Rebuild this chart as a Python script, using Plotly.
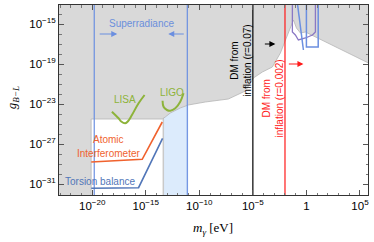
import plotly.graph_objects as go
import numpy as np

# ---------------- data (log10 values) ----------------
x_tick_exp = [-20, -15, -10, -5, 0, 5]
x_tick_text = ["10<sup>−20</sup>", "10<sup>−15</sup>", "10<sup>−10</sup>", "10<sup>−5</sup>", "1", "10<sup>5</sup>"]
y_tick_exp = [-31, -27, -23, -19, -15]
y_tick_text = ["10<sup>−31</sup>", "10<sup>−27</sup>", "10<sup>−23</sup>", "10<sup>−19</sup>", "10<sup>−15</sup>"]

# excluded (grey) region boundary
grey_logm = [-23.5, -20.1, -20.1, -13.46, -13.18, -12.71, -11.78, -11.03, -9.44, -7.29, -5.70, -4.95,
             -4.11, -3.18, -2.43, -1.96, -1.50, -1.21, -0.93, -0.56, -0.09, 5.79, 6.2, 6.2, -23.5]
grey_logg = [-32.5, -32.5, -24.5, -24.5, -24.3, -23.9, -23.4, -23.1, -22.8, -22.5, -21.7, -20.4,
             -19.8, -19.3, -17.9, -16.6, -15.3, -14.6, -15.4, -15.9, -15.8, -18.9, -19.0, -12.7, -12.7]

# superradiance (light blue) band
sr_band_logm = [-13.36, -11.03]
sr_band_logg = [-32.5, -21]
sr_bounds_logm = [-19.81, -11.12]

# purple contour
purple_logm = [-1.31, -1.31, -1.03, -0.75, -0.09, 0.56, 0.84, 0.84]
purple_logg = [-12.7, -15.8, -16.1, -16.6, -16.4, -16.1, -15.8, -12.7]
# blue slanted line and blue box
bline_logm = [-0.87, -0.28]
bline_logg = [-12.7, -17.6]
bbox_logm = [0.0, 0.0, 1.1, 1.1]
bbox_logg = [-12.7, -17.3, -17.3, -12.7]

# projected sensitivities
lisa_logm = [-18.16, -17.54, -17.29, -16.92, -16.64, -16.29, -15.67, -15.11]
lisa_logg = [-23.77, -24.43, -24.75, -24.93, -24.7, -24.1, -22.93, -22.1]
ligo_logm = [-13.43, -13.34, -13.02, -12.71, -12.24, -11.78, -11.47]
ligo_logg = [-22.67, -23.27, -23.6, -23.67, -23.43, -22.77, -21.93]
ai_logm = [-20.09, -15.33, -13.46]
ai_logg = [-28.8, -28.53, -24.8]
tb_logm = [-20.09, -15.67, -13.43]
tb_logg = [-31.43, -31.37, -26.43]

# DM from inflation lines
dm_black_logm = -5
dm_red_logm = -2

def p(v):
    return [10.0 ** a for a in v]

GREY = "#d9d9d9"
fig = go.Figure()

# light blue superradiance band
fig.add_trace(go.Scatter(x=p([sr_band_logm[0], sr_band_logm[0], sr_band_logm[1], sr_band_logm[1], sr_band_logm[0]]),
                         y=p([sr_band_logg[0], sr_band_logg[1], sr_band_logg[1], sr_band_logg[0], sr_band_logg[0]]),
                         fill="toself", fillcolor="#dcebfc", mode="lines", line=dict(width=0, color="#dcebfc"),
                         hoverinfo="skip"))
fig.add_trace(go.Scatter(x=p([sr_band_logm[0], sr_band_logm[0]]), y=p(sr_band_logg),
                         mode="lines", line=dict(color="#c9c9c9", width=1.5), hoverinfo="skip"))
# grey excluded region
fig.add_trace(go.Scatter(x=p(grey_logm), y=p(grey_logg), fill="toself", fillcolor=GREY,
                         mode="lines", line=dict(color="#b5b5b5", width=0.8), hoverinfo="skip"))
# superradiance bounds
for xm in sr_bounds_logm:
    fig.add_trace(go.Scatter(x=p([xm, xm]), y=p([-32.5, -12.7]), mode="lines",
                             line=dict(color="#6b8fe0", width=1.2), hoverinfo="skip"))
# purple and blue contours
fig.add_trace(go.Scatter(x=p(purple_logm), y=p(purple_logg), mode="lines",
                         line=dict(color="#8a78c4", width=1.3), hoverinfo="skip"))
fig.add_trace(go.Scatter(x=p(bline_logm), y=p(bline_logg), mode="lines",
                         line=dict(color="#6b8fe0", width=1.5), hoverinfo="skip"))
fig.add_trace(go.Scatter(x=p(bbox_logm), y=p(bbox_logg), mode="lines",
                         line=dict(color="#6b8fe0", width=1.5), hoverinfo="skip"))
# sensitivities
fig.add_trace(go.Scatter(x=p(lisa_logm), y=p(lisa_logg), mode="lines", line_shape="spline",
                         line=dict(color="#8db33a", width=2), hoverinfo="skip"))
fig.add_trace(go.Scatter(x=p(ligo_logm), y=p(ligo_logg), mode="lines", line_shape="spline",
                         line=dict(color="#8db33a", width=2), hoverinfo="skip"))
fig.add_trace(go.Scatter(x=p(ai_logm), y=p(ai_logg), mode="lines",
                         line=dict(color="#f0622e", width=1.6), hoverinfo="skip"))
fig.add_trace(go.Scatter(x=p(tb_logm), y=p(tb_logg), mode="lines",
                         line=dict(color="#5176b8", width=1.6), hoverinfo="skip"))
# DM lines
fig.add_trace(go.Scatter(x=p([dm_black_logm, dm_black_logm]), y=p([-32.5, -12.7]), mode="lines",
                         line=dict(color="black", width=1.2), hoverinfo="skip"))
fig.add_trace(go.Scatter(x=p([dm_red_logm, dm_red_logm]), y=p([-32.5, -12.7]), mode="lines",
                         line=dict(color="#ff1a1a", width=1.2), hoverinfo="skip"))

TF = "Liberation Sans, Arial, sans-serif"
ann = []
def txt(x, y, s, color, size=10, angle=0):
    ann.append(dict(x=x, y=y, xref="x", yref="y", text=s, showarrow=False,
                    font=dict(family=TF, size=size, color=color), textangle=angle,
                    xanchor="center", yanchor="middle"))
def arrow(x0, x1, y, color):
    ann.append(dict(x=x1, y=y, ax=x0, ay=y, xref="x", yref="y", axref="x", ayref="y",
                    text="", showarrow=True, arrowhead=2, arrowsize=1, arrowwidth=1.2,
                    arrowcolor=color))

txt(-15.42, -14.9, "Superradiance", "#6b8fdc")
arrow(-19.44, -17.66, -16.0, "#6b8fe0")
arrow(-11.31, -12.9, -16.0, "#6b8fe0")
txt(-16.92, -22.5, "LISA", "#8db33a")
txt(-12.52, -21.8, "LIGO", "#8db33a")
txt(-18.5, -26.5, "Atomic", "#f0622e")
txt(-18.5, -27.9, "Interferometer", "#f0622e")
txt(-19.25, -30.7, "Torsion balance", "#5176b8")
txt(-6.12, -18.6, "DM from<br>inflation (r=0.07)", "black", angle=-90)
arrow(-4.02, -2.9, -17.0, "black")
txt(-3.08, -22.4, "DM from<br>inflation (r=0.002)", "#ff1a1a", angle=-90)
arrow(-1.78, -0.28, -19.0, "#ff1a1a")

# axis titles
ann.append(dict(x=-0.152, y=0.51, xref="paper", yref="paper", showarrow=False, textangle=-90,
                text="<i>g</i><sub><i>B−L</i></sub>", font=dict(family="Liberation Serif, serif", size=13, color="black"),
                xanchor="center", yanchor="middle"))
ann.append(dict(x=0.498, y=-0.175, xref="paper", yref="paper", showarrow=False,
                text="<i>m</i><sub><i>γ</i></sub> [eV]", font=dict(family="Liberation Serif, serif", size=13, color="black"),
                xanchor="center", yanchor="middle"))

axis_common = dict(type="log", showgrid=False, zeroline=False, showline=True, linecolor="#333",
                   linewidth=1, mirror="allticks", ticks="inside", ticklen=5, tickcolor="#555",
                   tickfont=dict(family=TF, size=11.5, color="black"))

fig.update_layout(
    width=374, height=242,
    margin=dict(l=59, r=6, t=5, b=47),
    paper_bgcolor="white", plot_bgcolor="white",
    showlegend=False,
    annotations=ann,
    xaxis=dict(range=[-23.1, 5.75], tickvals=p(x_tick_exp), ticktext=x_tick_text,
               minor=dict(tickvals=p(list(range(-23, 6))), ticklen=2.5, tickcolor="#777", ticks="inside"),
               **axis_common),
    yaxis=dict(range=[-32.1, -13.1], tickvals=p(y_tick_exp), ticktext=y_tick_text,
               minor=dict(tickvals=p(list(range(-32, -13))), ticklen=2.5, tickcolor="#777", ticks="inside"),
               **axis_common),
)

fig.write_html("out.html", config={"displayModeBar": False},
               post_script="document.body.style.margin='0';document.body.style.padding='0';")
